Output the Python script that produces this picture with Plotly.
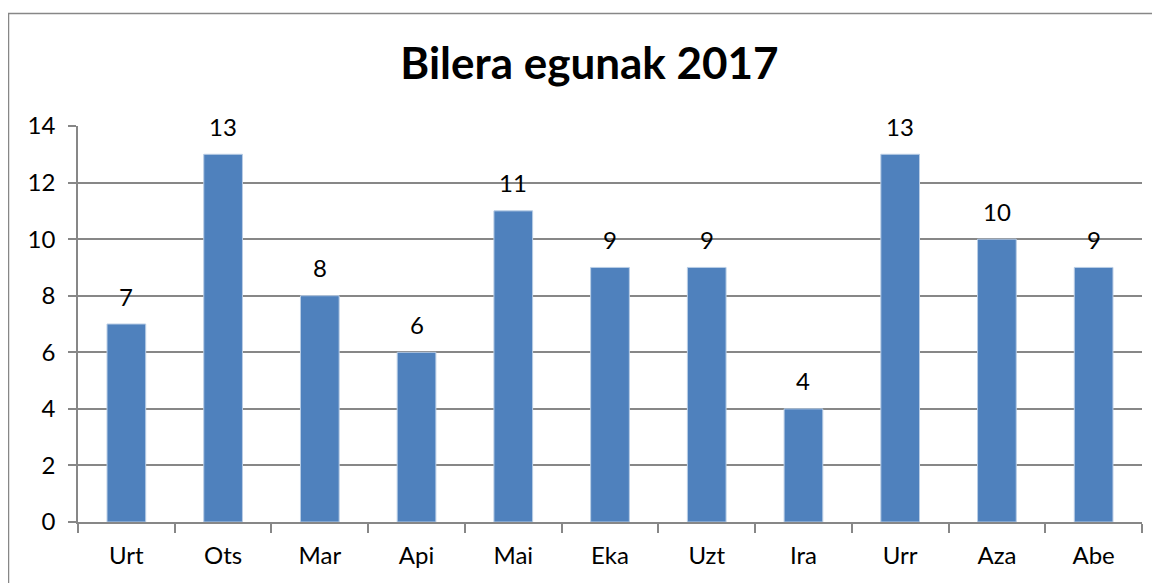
import plotly.graph_objects as go

months = ["Urt", "Ots", "Mar", "Api", "Mai", "Eka", "Uzt", "Ira", "Urr", "Aza", "Abe"]
days = [7, 13, 8, 6, 11, 9, 9, 4, 13, 10, 9]
title_text = "Bilera egunak 2017"
y_ticks = [0, 2, 4, 6, 8, 10, 12, 14]

# page has an 8px body margin, so the figure is drawn at (8, 8)
OFF = 8
W, H = 1160 - OFF, 583 - OFF
L, R, T, B = 78 - OFF, 18, 126 - OFF, 61
pw, ph = W - L - R, H - T - B

FONT = "Lato, Carlito, Calibri, sans-serif"
GRID = "#878787"
FS = 24

fig = go.Figure()
fig.add_trace(go.Bar(
    x=months, y=days,
    marker=dict(color="#4F81BD", line=dict(color="#B9CDE5", width=1)),
    width=0.4,
    hoverinfo="x+y",
))

for m, d in zip(months, days):
    fig.add_annotation(x=m, y=d, text=str(d), showarrow=False, yshift=28,
                       font=dict(family=FONT, size=FS, color="#000000"))


def px_to_paper_x(px):
    return (px - OFF - L) / pw


def px_to_paper_y(py):
    return (H - B - (py - OFF)) / ph


# chart-area border (left and top edges visible)
fig.add_shape(type="rect", xref="paper", yref="paper",
              x0=px_to_paper_x(8.5), x1=px_to_paper_x(1250),
              y0=px_to_paper_y(700), y1=px_to_paper_y(13.5),
              line=dict(color=GRID, width=1.5), fillcolor="rgba(0,0,0,0)", layer="below")

fig.update_layout(
    width=W, height=H,
    margin=dict(l=L, r=R, t=T, b=B, pad=0),
    paper_bgcolor="white", plot_bgcolor="white",
    showlegend=False,
    title=dict(text="<b>" + title_text + "</b>", xref="container", x=(589.5 - OFF) / W,
               xanchor="center", yref="container", y=1 - (64 - OFF) / H, yanchor="middle",
               font=dict(family=FONT, size=44, color="#000000")),
    font=dict(family=FONT, size=FS, color="#000000"),
    xaxis=dict(
        showline=True, linecolor=GRID, linewidth=1.5,
        ticks="outside", tickson="boundaries", ticklen=9, tickwidth=1.5, tickcolor=GRID,
        showgrid=False, ticklabelstandoff=11,
        tickfont=dict(family=FONT, size=FS, color="#000000"),
    ),
    yaxis=dict(
        range=[0, 14], tickvals=y_ticks,
        showline=True, linecolor=GRID, linewidth=1.5,
        ticks="outside", ticklen=8, tickwidth=1.5, tickcolor=GRID,
        showgrid=True, gridcolor=GRID, gridwidth=1.5, zeroline=False,
        ticklabelstandoff=8,
        tickfont=dict(family=FONT, size=FS, color="#000000"),
    ),
)

fig.write_html("out.html")
